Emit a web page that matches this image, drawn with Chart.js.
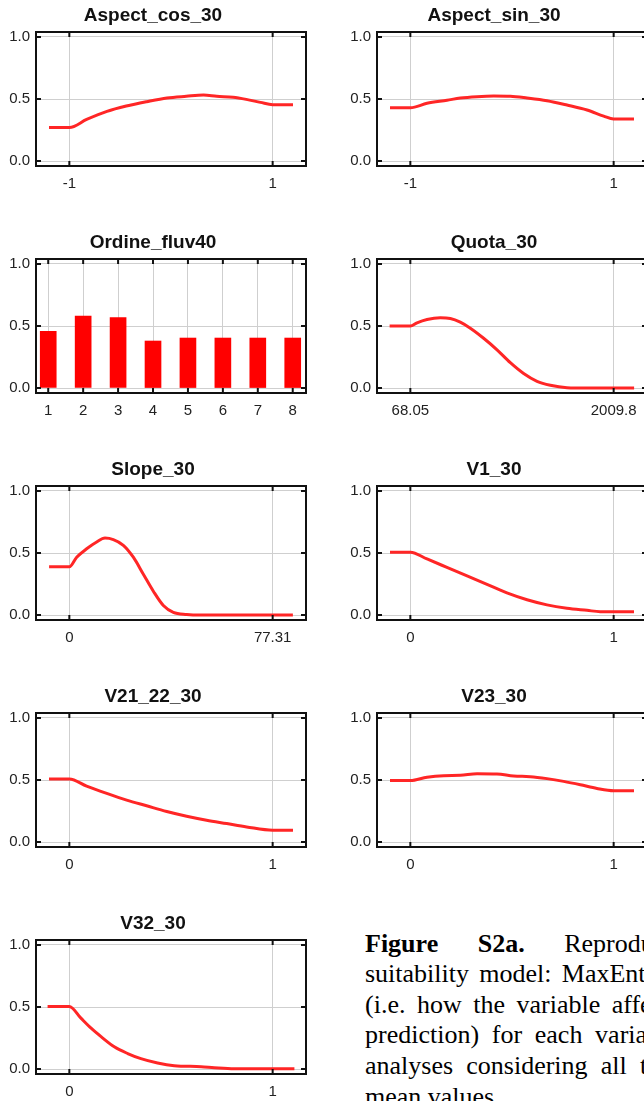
<!DOCTYPE html>
<html>
<head>
<meta charset="utf-8">
<title>MaxEnt response curves</title>
<script src="https://cdn.jsdelivr.net/npm/chart.js@4.4.0/dist/chart.umd.min.js"></script>
<style>
html, body { margin:0; padding:0; background:#fff; }
body { width:644px; height:1101px; overflow:hidden; position:relative; }
.cell { position:absolute; width:341px; height:227px; }
.cell canvas { display:block; }
.caption { position:absolute; left:365px; top:928.6px; font-family:"Liberation Serif","Times New Roman",serif; font-size:26px; line-height:30.6px; color:#000; }
.caption div { white-space:nowrap; }
</style>
</head>
<body>

<div class="caption">
  <div style="word-spacing:33px"><b>Figure S2a.</b> Reproductive habitat</div>
  <div style="word-spacing:3.8px">suitability model: MaxEnt response curves</div>
  <div style="word-spacing:5px">(i.e. how the variable affects the MaxEnt</div>
  <div style="word-spacing:6.2px">prediction) for each variable used in the</div>
  <div style="word-spacing:6.7px">analyses considering all the other variables at their</div>
  <div>mean values.</div>
</div>

<script>
// Titres des graphiques
const titles = ['Aspect_cos_30', 'Aspect_sin_30', 'Ordine_fluv40', 'Quota_30', 'Slope_30',
                'V1_30', 'V21_22_30', 'V23_30', 'V32_30'];

// Ticks communs de l'axe y
const yTicks = [0, 0.5, 1];

// Aspect_cos_30
const aspectCosTicks = [-1, 1];
const aspectCosLabels = ['-1', '1'];
const aspectCosX = [-1.2, -1, -0.83, -0.63, -0.44, -0.24, -0.04, 0.15, 0.32, 0.45, 0.61, 0.74, 0.88, 1, 1.2];
const aspectCosY = [0.27, 0.27, 0.335, 0.40, 0.443, 0.478, 0.508, 0.522, 0.532, 0.522, 0.514, 0.497, 0.473, 0.454, 0.454];

// Aspect_sin_30
const aspectSinTicks = [-1, 1];
const aspectSinLabels = ['-1', '1'];
const aspectSinX = [-1.2, -1, -0.836, -0.639, -0.508, -0.344, -0.18, -0.016, 0.148, 0.344, 0.541, 0.738, 0.902, 1, 1.2];
const aspectSinY = [0.43, 0.43, 0.465, 0.49, 0.508, 0.519, 0.524, 0.522, 0.508, 0.486, 0.451, 0.411, 0.362, 0.338, 0.338];

// Ordine_fluv40 (barres)
const ordineCats = [1, 2, 3, 4, 5, 6, 7, 8];
const ordineLabels = ['1', '2', '3', '4', '5', '6', '7', '8'];
const ordineVals = [0.458, 0.58, 0.567, 0.379, 0.403, 0.403, 0.403, 0.403];

// Quota_30
const quotaTicks = [68.05, 2009.8];
const quotaLabels = ['68.05', '2009.8'];
const quotaX = [-130, 68.05, 131.7, 227, 354, 450, 545, 641, 768, 896, 1023, 1150, 1278, 1405, 1564, 1755, 2205];
const quotaY = [0.499, 0.499, 0.526, 0.553, 0.567, 0.561, 0.531, 0.482, 0.401, 0.308, 0.204, 0.117, 0.054, 0.022, 0.003, 0, 0];

// Slope_30
const slopeTicks = [0, 77.31];
const slopeLabels = ['0', '77.31'];
const slopeX = [-7.7, 0, 2.79, 6.59, 10.39, 13.56, 16.73, 20.53, 24.33, 28.14, 31.94, 35.74, 39.54, 44.6, 49.7, 85];
const slopeY = [0.389, 0.389, 0.466, 0.534, 0.589, 0.62, 0.608, 0.562, 0.466, 0.329, 0.192, 0.077, 0.022, 0.005, 0, 0];

// V1_30
const v1Ticks = [0, 1];
const v1Labels = ['0', '1'];
const v1X = [-0.1, 0, 0.082, 0.18, 0.279, 0.377, 0.475, 0.574, 0.672, 0.77, 0.869, 0.934, 1.1];
const v1Y = [0.507, 0.507, 0.452, 0.384, 0.315, 0.247, 0.178, 0.123, 0.082, 0.055, 0.038, 0.027, 0.027];

// V21_22_30
const v2122Ticks = [0, 1];
const v2122Labels = ['0', '1'];
const v2122X = [-0.1, 0, 0.085, 0.184, 0.282, 0.38, 0.479, 0.577, 0.675, 0.774, 0.872, 1, 1.1];
const v2122Y = [0.508, 0.508, 0.451, 0.392, 0.338, 0.292, 0.246, 0.208, 0.176, 0.149, 0.122, 0.095, 0.095];

// V23_30
const v23Ticks = [0, 1];
const v23Labels = ['0', '1'];
const v23X = [-0.1, 0, 0.082, 0.164, 0.246, 0.328, 0.426, 0.508, 0.59, 0.672, 0.754, 0.836, 0.918, 1, 1.1];
const v23Y = [0.495, 0.495, 0.522, 0.535, 0.538, 0.551, 0.549, 0.532, 0.527, 0.511, 0.489, 0.462, 0.432, 0.414, 0.414];

// V32_30
const v32Ticks = [0, 1];
const v32Labels = ['0', '1'];
const v32X = [-0.107, 0, 0.057, 0.107, 0.156, 0.221, 0.287, 0.352, 0.434, 0.516, 0.648, 0.713, 0.811, 1.107];
const v32Y = [0.505, 0.505, 0.41, 0.329, 0.261, 0.179, 0.125, 0.084, 0.049, 0.027, 0.019, 0.011, 0.003, 0.003];

// Position des cellules (gauche/droite, 5 rangées)
const colLeft = [0, 341];
const rowTop = [0, 227, 454, 681, 908];

const tickFont = { family: '"Liberation Sans", Arial, sans-serif', size: 15 };
const gridStyle = { color: '#cfcfcf', lineWidth: 1, drawTicks: false, offset: false };

// Cadre noir + petits ticks vers l'intérieur
const framePlugin = {
    id: 'frame',
    afterDatasetsDraw(chart) {
        const { ctx, chartArea: a, scales } = chart;
        ctx.save();
        ctx.strokeStyle = '#111';
        ctx.lineWidth = 2;
        ctx.beginPath();
        scales.x.ticks.forEach((t, i) => {
            const px = scales.x.getPixelForTick(i);
            ctx.moveTo(px, a.bottom); ctx.lineTo(px, a.bottom - 5);
            ctx.moveTo(px, a.top); ctx.lineTo(px, a.top + 5);
        });
        scales.y.ticks.forEach((t, i) => {
            const py = scales.y.getPixelForTick(i);
            ctx.moveTo(a.left, py); ctx.lineTo(a.left + 5, py);
            ctx.moveTo(a.right, py); ctx.lineTo(a.right - 5, py);
        });
        ctx.stroke();
        ctx.strokeRect(a.left, a.top, a.width, a.height);
        ctx.restore();
    }
};

function toPoints(xs, ys) {
    return xs.map((x, i) => ({ x: x, y: ys[i] }));
}

function makeChart(idx, spec) {
    const cell = document.createElement('div');
    cell.className = 'cell';
    cell.style.left = colLeft[idx % 2] + 'px';
    cell.style.top = rowTop[Math.floor(idx / 2)] + 'px';
    const canvas = document.createElement('canvas');
    canvas.width = 341;
    canvas.height = 227;
    cell.appendChild(canvas);
    document.body.appendChild(cell);

    // marge de l'axe x autour des deux ticks extrêmes
    let xMin = spec.xMin, xMax = spec.xMax;
    if (xMin === undefined) {
        const span = spec.ticks[spec.ticks.length - 1] - spec.ticks[0];
        xMin = spec.ticks[0] - span * 0.164;
        xMax = spec.ticks[spec.ticks.length - 1] + span * 0.164;
    }

    const dataset = spec.bar ? {
        type: 'bar',
        data: spec.data,
        backgroundColor: '#ff0000',
        borderWidth: 0,
        barThickness: 16
    } : {
        type: 'line',
        data: spec.data,
        borderColor: '#ff2626',
        borderWidth: 3,
        pointRadius: 0,
        cubicInterpolationMode: 'monotone',
        fill: false
    };

    new Chart(canvas.getContext('2d'), {
        type: spec.bar ? 'bar' : 'line',
        data: { datasets: [dataset] },
        options: {
            responsive: false,
            animation: false,
            layout: { padding: { left: 0, right: 35, top: 0, bottom: 0 } },
            plugins: {
                legend: { display: false },
                tooltip: { enabled: false },
                title: {
                    display: true,
                    text: spec.title,
                    color: '#111',
                    font: { family: '"Liberation Sans", Arial, sans-serif', size: 19, weight: 'bold', lineHeight: 1.2 },
                    padding: { top: 4.2, bottom: 5 }
                }
            },
            scales: {
                x: {
                    type: 'linear',
                    min: xMin,
                    max: xMax,
                    offset: false,
                    afterBuildTicks: s => { s.ticks = spec.ticks.map(v => ({ value: v })); },
                    afterFit: s => { s.height = 61; },
                    grid: gridStyle,
                    border: { display: false },
                    ticks: {
                        padding: 9, color: '#222', font: tickFont,
                        maxRotation: 0, autoSkip: false,
                        callback: (v, i) => spec.labels[i]
                    }
                },
                y: {
                    type: 'linear',
                    min: -0.04,
                    max: 1.04,
                    afterBuildTicks: s => { s.ticks = yTicks.map(v => ({ value: v })); },
                    afterFit: s => { s.width = 36; },
                    grid: gridStyle,
                    border: { display: false },
                    ticks: {
                        padding: 6, color: '#222', font: tickFont,
                        callback: v => Number(v).toFixed(1)
                    }
                }
            }
        },
        plugins: [framePlugin]
    });
}

const specs = [
    { title: titles[0], ticks: aspectCosTicks, labels: aspectCosLabels, data: toPoints(aspectCosX, aspectCosY) },
    { title: titles[1], ticks: aspectSinTicks, labels: aspectSinLabels, data: toPoints(aspectSinX, aspectSinY) },
    { title: titles[2], ticks: ordineCats, labels: ordineLabels, data: toPoints(ordineCats, ordineVals), bar: true, xMin: 0.65, xMax: 8.38 },
    { title: titles[3], ticks: quotaTicks, labels: quotaLabels, data: toPoints(quotaX, quotaY) },
    { title: titles[4], ticks: slopeTicks, labels: slopeLabels, data: toPoints(slopeX, slopeY) },
    { title: titles[5], ticks: v1Ticks, labels: v1Labels, data: toPoints(v1X, v1Y) },
    { title: titles[6], ticks: v2122Ticks, labels: v2122Labels, data: toPoints(v2122X, v2122Y) },
    { title: titles[7], ticks: v23Ticks, labels: v23Labels, data: toPoints(v23X, v23Y) },
    { title: titles[8], ticks: v32Ticks, labels: v32Labels, data: toPoints(v32X, v32Y) }
];

specs.forEach((spec, i) => makeChart(i, spec));
</script>
</body>
</html>
